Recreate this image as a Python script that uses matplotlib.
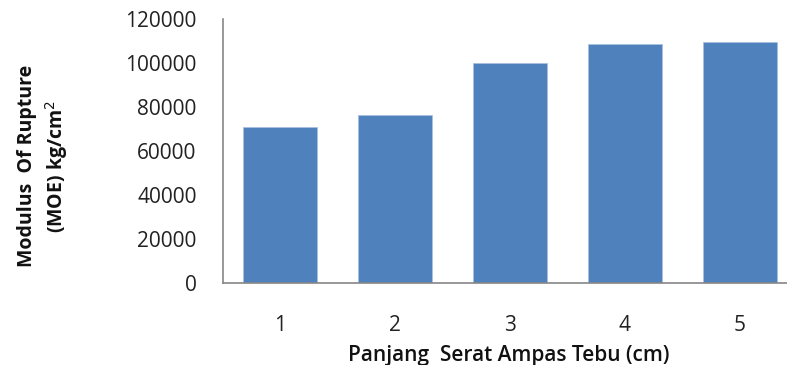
import numpy as np
import matplotlib
import matplotlib.pyplot as plt

#---------------------FONT and other graphics------------------------
matplotlib.rc('font', family=['Open Sans', 'DejaVu Sans'], size=15)

#---------------------DATA------------------------
panjang = [1, 2, 3, 4, 5]                       # panjang serat (cm)
moe = [71000, 76300, 100200, 108700, 109600]    # kg/cm2
yticks = [0, 20000, 40000, 60000, 80000, 100000, 120000]

#------------Figure Layout--------------
fig = plt.figure(figsize=(7.87, 3.65), dpi=100)
ax = fig.add_axes([0.2834, 0.2255, 0.7294, 0.7216])

ax.bar(panjang, moe, width=0.645, color='#4f81bd', edgecolor='#a9c1e0', linewidth=0.6)
ax.set_xlim(0.5, 5.5)
ax.set_ylim(0, 120000)
ax.set_yticks(yticks)
ax.set_yticklabels([str(v) for v in yticks])
ax.set_xticks(panjang)

for s in ['top', 'right']:
    ax.spines[s].set_visible(False)
for s in ['left', 'bottom']:
    ax.spines[s].set_color('#868686')
    ax.spines[s].set_linewidth(1.2)
ax.tick_params(axis='both', length=0, colors='#222222')
ax.tick_params(axis='y', pad=19)
ax.tick_params(axis='x', pad=23)

# axis titles
fig.text(0.647, 0.027, 'Panjang  Serat Ampas Tebu (cm)', ha='center', va='center',
         size=15, weight='semibold', color='#111111')
fig.text(0.034, 0.545, 'Modulus  Of Rupture', rotation=90, ha='center', va='center',
         size=14, weight='bold', color='#111111')
fig.text(0.072, 0.545, '(MOE) kg/cm$^2$', rotation=90, ha='center', va='center',
         size=14, weight='bold', color='#111111')

fig.savefig('out.png', dpi=100)
